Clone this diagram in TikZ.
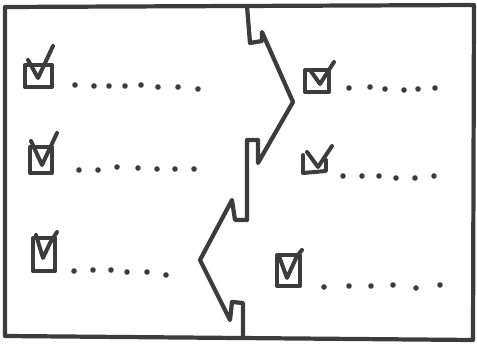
\documentclass[tikz,border=0pt]{standalone}
\definecolor{inkc}{HTML}{3C3C3C}
\begin{document}
\begin{tikzpicture}[x=0.03cm,y=-0.03cm,
  ink/.style={draw=inkc, line width=3.6pt, line join=round, line cap=round},
  boxln/.style={draw=inkc, line width=3.4pt, line join=round, line cap=round},
  dotc/.style={fill=inkc}]
\useasboundingbox (0,0) rectangle (477,346);
% frame
\draw[ink] (5,7) -- (474,5) -- (473,340) -- (5,336) -- cycle;
% divider
\draw[ink] (247,6) -- (250,43) -- (262,41) -- (262,32) -- (293,102)
  -- (258,163) -- (258,140) -- (247,140) -- (247,220) -- (235,220)
  -- (232,200) -- (200,260) -- (230,320) -- (232,302) -- (243,303) -- (243,338);
% left checkboxes
\draw[boxln] (25,65) rectangle (52,87);
\draw[boxln] (28,60) -- (38,78) -- (53,46);
\draw[boxln] (30,147) rectangle (52,173);
\draw[boxln] (31,141) -- (42,165) -- (57,133);
\draw[boxln] (33,238) rectangle (55,271);
\draw[boxln] (36,235) -- (43,258) -- (50,243) -- (57,232);
% right checkboxes
\draw[boxln] (305,70) rectangle (329,92);
\draw[boxln] (310,70) -- (320,84) -- (334,62);
\draw[boxln] (303,155) -- (303,173) -- (326,171) -- (326,160);
\draw[boxln] (307,152) -- (318,167) -- (332,146);
\draw[boxln] (277,255) rectangle (300,286);
\draw[boxln] (279,256) -- (287,278) -- (297,256) -- (302,250);
% dots
\foreach \p in {(75,85),(94,86),(109,86),(125,86),(141,85),(158,87),(178,87),(198,89),
  (79,170),(98,170),(117,167),(138,168),(157,169),(175,169),(194,169),
  (74,271),(93,270),(111,270),(127,272),(147,272),(166,275),
  (349,88),(370,87),(385,89),(404,90),(418,89),(435,88),
  (343,176),(362,176),(379,176),(396,178),(415,178),(434,176),
  (324,287),(349,286),(371,286),(393,285),(416,288),(440,285)}
  \fill[dotc] \p circle (2.8);
\end{tikzpicture}
\end{document}
